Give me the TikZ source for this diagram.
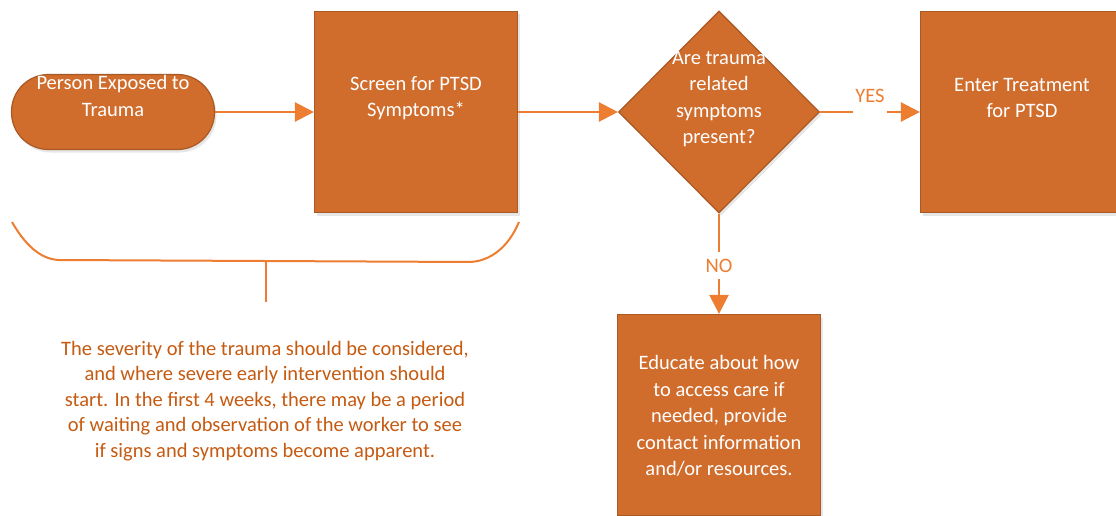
\documentclass[tikz,border=0pt]{standalone}
\usepackage{fontspec}
\setmainfont{Carlito}
\usetikzlibrary{shapes,arrows.meta,positioning,shadows}

\definecolor{boxfill}{HTML}{D06C2C}
\definecolor{boxline}{HTML}{A95A24}
\definecolor{flowline}{HTML}{ED7D31}
\definecolor{notetext}{HTML}{C55A11}

\begin{document}
\begin{tikzpicture}[x=1pt, y=-1pt, ->, >={Triangle[length=19pt,width=19pt]},
line width=2.5pt, node distance=303pt,
every edge/.append style={flowline},
box/.style={rectangle, draw=boxline, line width=1.2pt, fill=boxfill,
  minimum width=203pt, minimum height=201pt,
  drop shadow={opacity=0.2, shadow xshift=2pt, shadow yshift=-3pt}},
term/.style={box, rounded corners=37pt, minimum height=75pt},
decide/.style={diamond, draw=boxline, line width=1.2pt, fill=boxfill,
  minimum width=201pt, minimum height=202pt, inner sep=0pt,
  drop shadow={opacity=0.2, shadow xshift=2pt, shadow yshift=-3pt}},
boxtext/.style={text=white, align=center, font=\fontsize{20.5}{26.5}\selectfont},
lbl/.style={fill=white, text=flowline, inner xsep=2pt, inner ysep=2pt,
  text height=13pt, font=\fontsize{20.5}{24}\selectfont}]

\clip (0,0) rectangle (1116,516);

\node [term] (person) at (113,112)
  [label={[boxtext, yshift=16pt]center:{Person Exposed to\\Trauma}}] {};
\node [box] (screen) [right of=person]
  [label={[boxtext, yshift=14pt]center:{Screen for PTSD\\Symptoms*}}] {};
\path (person) edge (screen);
\node [decide] (present) [right of=screen]
  [label={[boxtext, yshift=13pt]center:{Are trauma\\related\\symptoms\\present?}}] {};
\path (screen) edge (present);
\node [box] (treat) [right of=present]
  [label={[boxtext, yshift=14pt]center:{Enter Treatment\\for PTSD}}] {};
\path (present) edge node [lbl, text depth=31pt] {YES} (treat);

\node [box] (educate) [below of=present]
  [label={[boxtext, yshift=-1pt]center:{Educate about how\\to access care if\\needed, provide\\contact information\\and/or resources.}}] {};
\path (present) edge node [lbl, inner ysep=7pt, yshift=-2pt] {NO} (educate);

% brace under the first two steps
\draw [-, flowline, line width=2pt] (12,222) .. controls (28,250) and (44,259) .. (58,260)
  -- (470,262) .. controls (490,261) and (508,248) .. (519,222);
\coordinate (brace) at (266,262);
\coordinate (stem) at (266,302);
\draw [-, flowline, line width=2pt] (brace) -- (stem);

\node [text=notetext, align=center, font=\fontsize{20.5}{25.5}\selectfont] (note) at (265,401)
  {The severity of the trauma should be considered,\\and where severe early intervention should\\start. In the first 4 weeks, there may be a period\\of waiting and observation of the worker to see\\if signs and symptoms become apparent.};

\end{tikzpicture}
\end{document}
